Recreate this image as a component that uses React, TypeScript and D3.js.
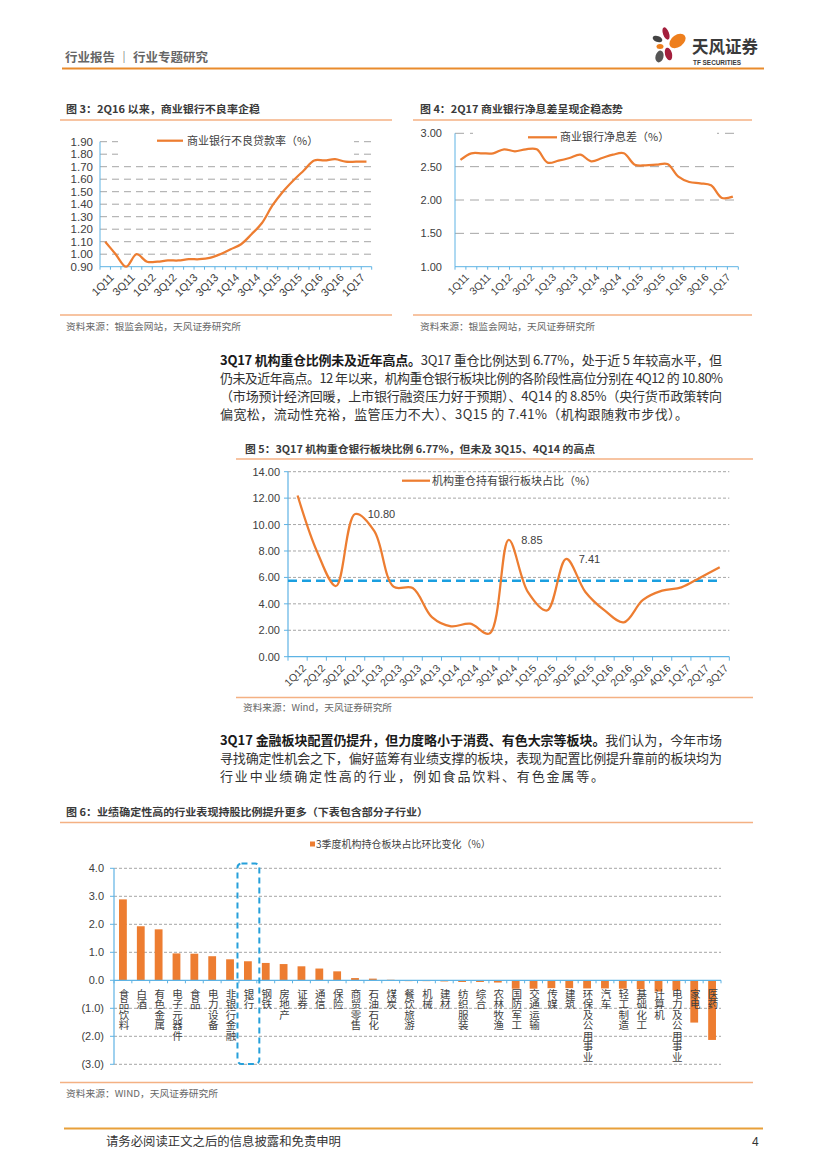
import React from 'react';
import * as d3 from 'd3';

// ---------- DATA ----------
const nplQuarters = ['1Q11','2Q11','3Q11','4Q11','1Q12','2Q12','3Q12','4Q12','1Q13','2Q13','3Q13','4Q13','1Q14','2Q14','3Q14','4Q14','1Q15','2Q15','3Q15','4Q15','1Q16','2Q16','3Q16','4Q16','1Q17','2Q17'];
const nplRate = [1.10,1.00,0.90,1.00,0.94,0.94,0.95,0.95,0.96,0.96,0.97,1.00,1.04,1.08,1.16,1.25,1.39,1.50,1.59,1.67,1.75,1.75,1.76,1.74,1.74,1.74];
const nplTicks = [0.9,1.0,1.1,1.2,1.3,1.4,1.5,1.6,1.7,1.8,1.9];

const nimRate = [2.60,2.70,2.70,2.70,2.76,2.73,2.76,2.76,2.56,2.59,2.63,2.68,2.58,2.63,2.68,2.70,2.53,2.52,2.53,2.54,2.35,2.27,2.25,2.22,2.03,2.05];
const nimTicks = [1.0,1.5,2.0,2.5,3.0];

const holdQuarters = ['1Q12','2Q12','3Q12','4Q12','1Q13','2Q13','3Q13','4Q13','1Q14','2Q14','3Q14','4Q14','1Q15','2Q15','3Q15','4Q15','1Q16','2Q16','3Q16','4Q16','1Q17','2Q17','3Q17'];
const holdShare = [12.2,8.0,5.35,10.80,9.5,5.3,5.2,3.0,2.3,2.5,1.75,8.85,4.9,3.5,7.41,4.9,3.5,2.6,4.3,5.0,5.25,6.0,6.77];
const holdTicks = [0,2,4,6,8,10,12,14];
const holdAverage = 5.75;
const holdLabelled = ['4Q12','4Q14','3Q15'];

const sectorNames = ['食品饮料','白酒','有色金属','电子元器件','食品','电力设备','非银行金融','银行','钢铁','房地产','证券','通信','保险','商贸零售','石油石化','煤炭','餐饮旅游','机械','建材','纺织服装','综合','农林牧渔','国防军工','交通运输','传媒','建筑','环保及公用事业','汽车','轻工制造','基础化工','计算机','电力及公用事业','家电','医药'];
const sectorChange = [2.89,1.93,1.82,0.96,0.95,0.86,0.75,0.68,0.62,0.58,0.50,0.42,0.32,0.08,0.06,0.02,-0.03,-0.03,-0.04,-0.06,-0.06,-0.08,-0.30,-0.30,-0.28,-0.28,-0.29,-0.29,-0.30,-0.32,-0.40,-0.36,-1.51,-2.13];
const sectorTicks = [-3,-2,-1,0,1,2,3,4];
const highlightSector = '银行';

// ---------- STYLE ----------
const ORANGE = '#ed7d31';
const LIGHT_OR = '#f4b183';
const AXIS_BLUE = '#5eb3e4';
const GRID = '#a6a6a6';
const TXT = '#404040';
const CJK = '"Noto Sans CJK SC", "Liberation Sans", sans-serif';
const NUM = '"Liberation Sans", Arial, sans-serif';

const fmt2 = d3.format('.2f');
const fmt1 = (v: number) => (v < 0 ? `(${d3.format('.1f')(-v)})` : d3.format('.1f')(v));

function ChartNPL() {
  const x = d3.scaleBand<string>().domain(nplQuarters).range([100, 371.7]);
  const y = d3.scaleLinear().domain([0.9, 1.9]).range([266.7, 141.7]);
  const cx = (q: string) => (x(q) as number) + x.bandwidth() / 2;
  const line = d3.line<number>().x((_, i) => cx(nplQuarters[i])).y(d => y(d)).curve(d3.curveCatmullRom);
  const b = y.range()[0];
  return (
    <g>
      {nplTicks.slice(1).map(t => (
        <line key={t} x1={100} x2={371.7} y1={y(t)} y2={y(t)} stroke={GRID} strokeWidth={1} strokeDasharray="7,5" />
      ))}
      <rect x={118} y={134} width={236} height={23} fill="#fff" />
      <line x1={100} x2={100} y1={y(1.9)} y2={b} stroke={AXIS_BLUE} strokeWidth={1} />
      <line x1={100} x2={371.7} y1={b} y2={b} stroke={AXIS_BLUE} strokeWidth={1} />
      {nplQuarters.map(q => (
        <line key={q} x1={x(q)} x2={x(q)} y1={b} y2={b + 3} stroke={AXIS_BLUE} />
      ))}
      <line x1={371.7} x2={371.7} y1={b} y2={b + 3} stroke={AXIS_BLUE} />
      {nplTicks.map(t => (
        <text key={t} x={93} y={y(t) + 4} textAnchor="end" fontSize={11.5} fontFamily={NUM} fill={TXT}>{fmt2(t)}</text>
      ))}
      {nplQuarters.map((q, i) => i % 2 === 0 ? (
        <text key={q} transform={`translate(${cx(q) + 4},${b + 6}) rotate(-45)`} textAnchor="end" fontSize={11} fontFamily={NUM} fill={TXT} dy="0.7em">{q}</text>
      ) : null)}
      <path d={line(nplRate) || ''} fill="none" stroke={ORANGE} strokeWidth={2.25} />
      <line x1={157} x2={183} y1={140.7} y2={140.7} stroke={ORANGE} strokeWidth={2.25} />
      <text x={187} y={144.7} fontSize={11} fontFamily={CJK} fill={TXT}>商业银行不良贷款率（%）</text>
    </g>
  );
}

function ChartNIM() {
  const x = d3.scaleBand<string>().domain(nplQuarters).range([455, 738.3]);
  const y = d3.scaleLinear().domain([1.0, 3.0]).range([266.7, 133.3]);
  const cx = (q: string) => (x(q) as number) + x.bandwidth() / 2;
  const line = d3.line<number>().x((_, i) => cx(nplQuarters[i])).y(d => y(d)).curve(d3.curveCatmullRom);
  const b = y.range()[0];
  return (
    <g>
      {nimTicks.slice(1).map(t => (
        <line key={t} x1={455} x2={738.3} y1={y(t)} y2={y(t)} stroke={GRID} strokeWidth={1} strokeDasharray="9,6" />
      ))}
      <rect x={473} y={126} width={244} height={22} fill="#fff" />
      <line x1={455} x2={455} y1={y(3)} y2={b} stroke={AXIS_BLUE} strokeWidth={1} />
      <line x1={455} x2={738.3} y1={b} y2={b} stroke={AXIS_BLUE} strokeWidth={1} />
      {nplQuarters.map(q => (
        <line key={q} x1={x(q)} x2={x(q)} y1={b} y2={b + 3} stroke={AXIS_BLUE} />
      ))}
      <line x1={738.3} x2={738.3} y1={b} y2={b + 3} stroke={AXIS_BLUE} />
      {nimTicks.map(t => (
        <text key={t} x={442} y={y(t) + 4} textAnchor="end" fontSize={11} fontFamily={NUM} fill={TXT}>{fmt2(t)}</text>
      ))}
      {nplQuarters.map((q, i) => i % 2 === 0 ? (
        <text key={q} transform={`translate(${cx(q) + 4},${b + 6}) rotate(-45)`} textAnchor="end" fontSize={10.5} fontFamily={NUM} fill={TXT} dy="0.7em">{q}</text>
      ) : null)}
      <path d={line(nimRate) || ''} fill="none" stroke={ORANGE} strokeWidth={2.25} />
      <line x1={528} x2={557} y1={137.3} y2={137.3} stroke={ORANGE} strokeWidth={2.25} />
      <text x={560} y={141.3} fontSize={11} fontFamily={CJK} fill={TXT}>商业银行净息差（%）</text>
    </g>
  );
}

function ChartHold() {
  const x = d3.scaleBand<string>().domain(holdQuarters).range([288, 729.3]);
  const y = d3.scaleLinear().domain([0, 14]).range([656.7, 471.7]);
  const cx = (q: string) => (x(q) as number) + x.bandwidth() / 2;
  const line = d3.line<number>().x((_, i) => cx(holdQuarters[i])).y(d => y(d)).curve(d3.curveCatmullRom);
  const b = y(0);
  return (
    <g>
      {holdTicks.slice(1).map(t => (
        <line key={t} x1={288} x2={729.3} y1={y(t)} y2={y(t)} stroke={GRID} strokeWidth={1} strokeDasharray="3,2" />
      ))}
      <rect x={395} y={473} width={205} height={17} fill="#fff" />
      <line x1={288} x2={288} y1={y(14)} y2={b} stroke={AXIS_BLUE} strokeWidth={1.2} />
      <line x1={288} x2={729.3} y1={b} y2={b} stroke={AXIS_BLUE} strokeWidth={1.2} />
      {holdQuarters.map(q => (
        <line key={q} x1={x(q)} x2={x(q)} y1={b} y2={b + 4} stroke={AXIS_BLUE} />
      ))}
      <line x1={729.3} x2={729.3} y1={b} y2={b + 4} stroke={AXIS_BLUE} />
      {holdTicks.map(t => (
        <line key={'t' + t} x1={284} x2={288} y1={y(t)} y2={y(t)} stroke={AXIS_BLUE} />
      ))}
      {holdTicks.map(t => (
        <text key={t} x={280} y={y(t) + 4} textAnchor="end" fontSize={11} fontFamily={NUM} fill={TXT}>{fmt2(t)}</text>
      ))}
      {holdQuarters.map(q => (
        <text key={q} transform={`translate(${cx(q) + 4},${b + 7}) rotate(-45)`} textAnchor="end" fontSize={10.5} fontFamily={NUM} fill={TXT} dy="0.7em">{q}</text>
      ))}
      <line x1={288} x2={720} y1={y(holdAverage)} y2={y(holdAverage)} stroke="#1b9fe0" strokeWidth={2.5} strokeDasharray="9,5" />
      <path d={line(holdShare) || ''} fill="none" stroke={ORANGE} strokeWidth={2.25} />
      {holdLabelled.map(q => {
        const v = holdShare[holdQuarters.indexOf(q)];
        return <text key={q} x={cx(q) + 12.5} y={y(v) + 4} fontSize={11} fontFamily={NUM} fill={TXT}>{fmt2(v)}</text>;
      })}
      <line x1={402} x2={430} y1={480.7} y2={480.7} stroke={ORANGE} strokeWidth={2.25} />
      <text x={432} y={484.7} fontSize={11} fontFamily={CJK} fill={TXT}>机构重仓持有银行板块占比（%）</text>
    </g>
  );
}

function ChartSector() {
  const x = d3.scaleBand<string>().domain(sectorNames).range([114, 721]);
  const y = d3.scaleLinear().domain([-3, 4]).range([1064.3, 868.3]);
  const cx = (s: string) => (x(s) as number) + x.bandwidth() / 2;
  const bw = 7.8;
  const z = y(0);
  const hx = x(highlightSector) as number;
  return (
    <g>
      {sectorTicks.filter(t => t !== 0).map(t => (
        <line key={t} x1={114} x2={721} y1={y(t)} y2={y(t)} stroke={GRID} strokeWidth={1} strokeDasharray="3,2" />
      ))}
      {sectorNames.map((s, i) => {
        const v = sectorChange[i];
        return <rect key={s} x={cx(s) - bw / 2} y={Math.min(y(v), z)} width={bw} height={Math.abs(y(v) - z)} fill={ORANGE} />;
      })}
      <line x1={114} x2={114} y1={y(4)} y2={y(-3)} stroke={AXIS_BLUE} strokeWidth={1.2} />
      <line x1={114} x2={721} y1={z} y2={z} stroke={AXIS_BLUE} strokeWidth={1.2} />
      {sectorNames.map(s => (
        <line key={'tk' + s} x1={x(s)} x2={x(s)} y1={z} y2={z + 3} stroke={AXIS_BLUE} />
      ))}
      <line x1={721} x2={721} y1={z} y2={z + 3} stroke={AXIS_BLUE} />
      {sectorTicks.map(t => (
        <line key={'yt' + t} x1={110} x2={114} y1={y(t)} y2={y(t)} stroke={AXIS_BLUE} />
      ))}
      {sectorTicks.map(t => (
        <text key={t} x={104} y={y(t) + 4} textAnchor="end" fontSize={11} fontFamily={NUM} fill={TXT}>{fmt1(t)}</text>
      ))}
      {sectorNames.map(s => (
        <text key={'l' + s} x={cx(s) + 1} y={z + 8} fontSize={10.5} fontFamily={CJK} fill={TXT}
          style={{ writingMode: 'vertical-rl', textOrientation: 'upright' } as React.CSSProperties}>{s}</text>
      ))}
      <rect x={hx - 1.5} y={863.5} width={x.bandwidth() + 4} height={200.5} rx={4} fill="none" stroke="#26a0da" strokeWidth={2} strokeDasharray="6,4" />
      <rect x={310} y={841.5} width={5} height={5} fill={ORANGE} />
      <text x={316} y={848} fontSize={10} fontFamily={CJK} fill={TXT}>3季度机构持仓板块占比环比变化（%）</text>
    </g>
  );
}

function Para({ lines, y0, dy }: { lines: { bold?: string; rest: string; w: number }[]; y0: number; dy: number }) {
  return (
    <g fontFamily={CJK} fontSize={13} fill="#333">
      {lines.map((l, i) => (
        <text key={i} x={220} y={y0 + i * dy} textLength={l.w} lengthAdjust="spacing">
          {l.bold ? <tspan fontWeight="bold" fill="#1a1a1a">{l.bold}</tspan> : null}
          <tspan>{l.rest}</tspan>
        </text>
      ))}
    </g>
  );
}

const para1 = [
  { bold: '3Q17 机构重仓比例未及近年高点。', rest: '3Q17 重仓比例达到 6.77%，处于近 5 年较高水平，但', w: 502 },
  { rest: '仍未及近年高点。12 年以来，机构重仓银行板块比例的各阶段性高位分别在 4Q12 的 10.80%', w: 503 },
  { rest: '（市场预计经济回暖，上市银行融资压力好于预期）、4Q14 的 8.85%（央行货币政策转向', w: 502 },
  { rest: '偏宽松，流动性充裕，监管压力不大）、3Q15 的 7.41%（机构跟随救市步伐）。', w: 468 },
];
const para2 = [
  { bold: '3Q17 金融板块配置仍提升，但力度略小于消费、有色大宗等板块。', rest: '我们认为，今年市场', w: 502 },
  { rest: '寻找确定性机会之下，偏好蓝筹有业绩支撑的板块，表现为配置比例提升靠前的板块均为', w: 502 },
  { rest: '行业中业绩确定性高的行业，例如食品饮料、有色金属等。', w: 384 },
];

function Title({ x, y, text, w }: { x: number; y: number; text: string; w: number }) {
  return <text x={x} y={y} fontSize={10.5} fontWeight="bold" fontFamily={CJK} fill="#3a3a3a" textLength={w} lengthAdjust="spacingAndGlyphs">{text}</text>;
}
function Source({ x, y, text, w }: { x: number; y: number; text: string; w: number }) {
  return <text x={x} y={y} fontSize={9.5} fontFamily={CJK} fill="#666" textLength={w} lengthAdjust="spacingAndGlyphs">{text}</text>;
}

export default function App() {
  return (
    <svg width={827} height={1169} style={{ position: 'absolute', left: 0, top: 0, background: '#fff' }}>
      <rect width={827} height={1169} fill="#fff" />
      {/* header */}
      <text x={65} y={61.5} fontSize={12} fontWeight="bold" fontFamily={CJK} fill="#666" textLength={143} lengthAdjust="spacingAndGlyphs">行业报告 ｜ 行业专题研究</text>
      <line x1={62} x2={764} y1={68.5} y2={68.5} stroke="#e98b2c" strokeWidth={2} />
      <g>
        <ellipse cx={666} cy={33.5} rx={3} ry={6.5} fill="#a31f3c" transform="rotate(-20 666 33.5)" />
        <ellipse cx={677.5} cy={41} rx={9} ry={6} fill="#ee7f1d" transform="rotate(-35 677.5 41)" />
        <ellipse cx={657.5} cy={39} rx={5} ry={3} fill="#444" transform="rotate(20 657.5 39)" />
        <ellipse cx={660} cy={46.5} rx={3.5} ry={2.5} fill="#ee7f1d" />
        <ellipse cx={668.5} cy={54} rx={3.5} ry={6.5} fill="#a31f3c" transform="rotate(-15 668.5 54)" />
        <ellipse cx={659.5} cy={56.5} rx={4} ry={6} fill="#555" transform="rotate(15 659.5 56.5)" />
      </g>
      <text x={692} y={53} fontSize={17.5} fontWeight="bold" fontFamily={CJK} fill="#3a3a3a" textLength={66} lengthAdjust="spacingAndGlyphs">天风证券</text>
      <text x={693} y={64.5} fontSize={6.5} fontWeight="bold" fontFamily={NUM} fill="#3a3a3a" textLength={48} lengthAdjust="spacingAndGlyphs">TF SECURITIES</text>

      {/* chart 3 */}
      <Title x={66} y={113} text="图 3：2Q16 以来，商业银行不良率企稳" w={194} />
      <line x1={60} x2={392} y1={120} y2={120} stroke={LIGHT_OR} strokeWidth={1.5} />
      <ChartNPL />
      <line x1={60} x2={392} y1={315} y2={315} stroke={LIGHT_OR} strokeWidth={1.5} />
      <Source x={66} y={330} text="资料来源：银监会网站，天风证券研究所" w={175} />

      {/* chart 4 */}
      <Title x={420} y={113} text="图 4：2Q17 商业银行净息差呈现企稳态势" w={203} />
      <line x1={413} x2={752} y1={120} y2={120} stroke={LIGHT_OR} strokeWidth={1.5} />
      <ChartNIM />
      <line x1={413} x2={752} y1={315} y2={315} stroke={LIGHT_OR} strokeWidth={1.5} />
      <Source x={420} y={330} text="资料来源：银监会网站，天风证券研究所" w={175} />

      <Para lines={para1} y0={364.5} dy={18.2} />

      {/* chart 5 */}
      <Title x={245} y={452.5} text="图 5：3Q17 机构重仓银行板块比例 6.77%，但未及 3Q15、4Q14 的高点" w={350} />
      <line x1={236} x2={753} y1={459} y2={459} stroke={LIGHT_OR} strokeWidth={1.5} />
      <ChartHold />
      <line x1={236} x2={753} y1={697.5} y2={697.5} stroke={LIGHT_OR} strokeWidth={1.5} />
      <Source x={243} y={711} text="资料来源：Wind，天风证券研究所" w={149} />

      <Para lines={para2} y0={744.5} dy={18.3} />

      {/* chart 6 */}
      <Title x={66} y={815.5} text="图 6：业绩确定性高的行业表现持股比例提升更多（下表包含部分子行业）" w={362} />
      <line x1={60} x2={753} y1={822.5} y2={822.5} stroke={LIGHT_OR} strokeWidth={1.5} />
      <ChartSector />
      <line x1={60} x2={753} y1={1082.5} y2={1082.5} stroke={LIGHT_OR} strokeWidth={1.5} />
      <Source x={66} y={1096.5} text="资料来源：WIND，天风证券研究所" w={152} />

      {/* footer */}
      <line x1={64} x2={763} y1={1128.5} y2={1128.5} stroke="#e8a03a" strokeWidth={2} />
      <text x={106} y={1145.5} fontSize={12} fontFamily={CJK} fill="#333" textLength={235} lengthAdjust="spacingAndGlyphs">请务必阅读正文之后的信息披露和免责申明</text>
      <text x={752} y={1145.5} fontSize={12} fontFamily={NUM} fill="#333">4</text>
    </svg>
  );
}
